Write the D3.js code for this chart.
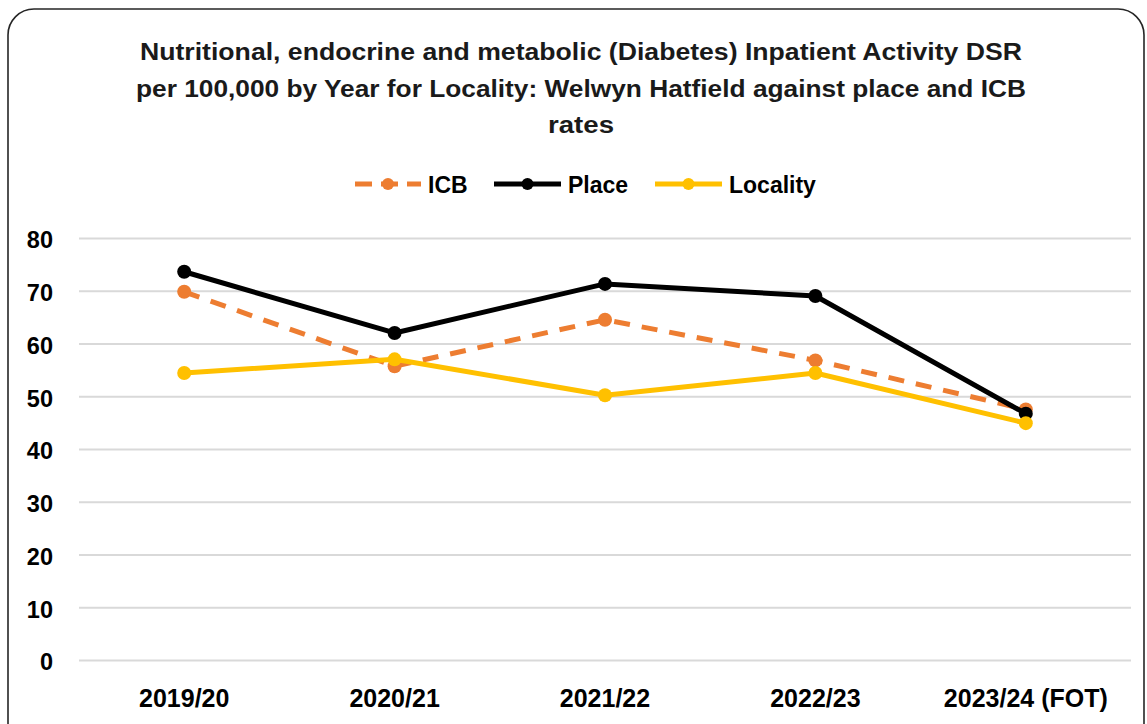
<!DOCTYPE html>
<html><head><meta charset="utf-8">
<script src="https://cdn.jsdelivr.net/npm/d3@7"></script>
<style>body{margin:0;background:#fff;}svg{display:block;}</style>
</head><body>
<svg id="chart" width="1147" height="724"></svg>
<script>
const categories = ["2019/20","2020/21","2021/22","2022/23","2023/24 (FOT)"];
const icbValues = [69.8, 55.7, 64.5, 56.8, 47.5];
const placeValues = [73.6, 62.0, 71.3, 69.0, 46.7];
const localityValues = [54.4, 57.0, 50.2, 54.4, 44.9];
const yTicks = [0,10,20,30,40,50,60,70,80];
const titleLines = ["Nutritional, endocrine and metabolic (Diabetes) Inpatient Activity DSR","per 100,000 by Year for Locality: Welwyn Hatfield against place and ICB","rates"];

const series = [
  {name:"ICB", values:icbValues, color:"#ED7D31", dash:"16,12"},
  {name:"Place", values:placeValues, color:"#000000", dash:null},
  {name:"Locality", values:localityValues, color:"#FFC000", dash:null}
];

const svg = d3.select("#chart");
const font = "'Liberation Sans', Arial, sans-serif";

svg.append("rect").attr("x",8).attr("y",9).attr("width",1136).attr("height",740)
  .attr("rx",26).attr("fill","#fff").attr("stroke","#262626").attr("stroke-width",1.6);

const pLeft=79, pRight=1131, pTop=238, pBottom=660;
const x = d3.scaleBand().domain(categories).range([pLeft,pRight]);
const y = d3.scaleLinear().domain([0,80]).range([pBottom,pTop]);

// title
const titleWidths=[882,890,66];
const titleY=[60,97,133];
titleLines.forEach((t,i)=>{
  svg.append("text").attr("x",581).attr("y",titleY[i]).attr("text-anchor","middle")
    .attr("font-family",font).attr("font-weight","bold").attr("font-size",23.5)
    .attr("fill","#1a1a1a").attr("textLength",titleWidths[i]).attr("lengthAdjust","spacingAndGlyphs").text(t);
});

// grid
const gy = svg.append("g").attr("transform",`translate(${pLeft},0)`)
  .call(d3.axisLeft(y).tickValues(yTicks).tickSize(-(pRight-pLeft)).tickPadding(26).tickFormat(d3.format("d")));
gy.select(".domain").remove();
gy.selectAll(".tick line").attr("stroke","#D9D9D9").attr("stroke-width",2);
gy.selectAll(".tick text").attr("font-family",font).attr("font-weight","bold").attr("font-size",23.5).attr("fill","#000").attr("dy","0.42em");

const gx = svg.append("g").attr("transform",`translate(0,${pBottom})`)
  .call(d3.axisBottom(x).tickSize(0).tickPadding(29));
gx.select(".domain").remove();
gx.selectAll(".tick text").attr("font-family",font).attr("font-weight","bold").attr("font-size",25).attr("fill","#000");

const line = d3.line().x((d,i)=>x(categories[i])+x.bandwidth()/2).y(d=>y(d));
series.forEach(s=>{
  const g = svg.append("g");
  g.append("path").datum(s.values).attr("d",line).attr("fill","none")
    .attr("stroke",s.color).attr("stroke-width",5).attr("stroke-linejoin","round")
    .attr("stroke-linecap",s.dash?"butt":"round").attr("stroke-dasharray",s.dash);
  g.selectAll("circle").data(s.values).join("circle")
    .attr("cx",(d,i)=>x(categories[i])+x.bandwidth()/2).attr("cy",d=>y(d)).attr("r",7).attr("fill",s.color);
});

// legend
const legend = [
  {s:series[0], x1:355, x2:421, tx:428},
  {s:series[1], x1:494, x2:561, tx:568},
  {s:series[2], x1:655, x2:722, tx:729}
];
legend.forEach(l=>{
  const ly=184;
  svg.append("line").attr("x1",l.x1).attr("x2",l.x2).attr("y1",ly).attr("y2",ly)
    .attr("stroke",l.s.color).attr("stroke-width",5).attr("stroke-dasharray",l.s.dash?"17,9":null);
  svg.append("circle").attr("cx",(l.x1+l.x2)/2).attr("cy",ly).attr("r",6).attr("fill",l.s.color);
  svg.append("text").attr("x",l.tx).attr("y",ly+8.5).attr("font-family",font).attr("font-weight","bold")
    .attr("font-size",23).attr("fill","#000").text(l.s.name);
});
</script>
</body></html>
